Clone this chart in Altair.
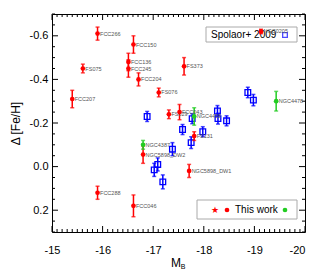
import altair as alt
import pandas as pd

# ---- data ----
red_names = ["FCC266", "FCC150", "FCC136", "FCC245", "FCC204", "FS075", "FCC207",
             "FS076", "FS373", "NGC0205", "FS029", "FCC043", "FS131",
             "NGC5898_DW2", "NGC5898_DW1", "FCC288", "FCC046"]
red_x = [-15.90, -16.61, -16.51, -16.51, -16.71, -15.61, -15.40,
         -17.11, -17.61, -19.13, -17.31, -17.52, -17.81,
         -16.80, -17.71, -15.90, -16.61]
red_y = [-0.61, -0.56, -0.48, -0.45, -0.40, -0.45, -0.31,
         -0.34, -0.46, -0.62, -0.24, -0.25, -0.14,
         -0.055, 0.02, 0.12, 0.18]
red_err = [0.03, 0.04, 0.04, 0.04, 0.03, 0.02, 0.04,
           0.02, 0.04, 0.01, 0.02, 0.035, 0.02,
           0.04, 0.03, 0.03, 0.05]

green_names = ["NGC4387", "NGC4458", "NGC4478"]
green_x = [-16.80, -17.81, -19.43]
green_y = [-0.10, -0.23, -0.30]
green_err = [0.02, 0.04, 0.045]

blue_x = [-16.88, -17.77, -17.58, -17.98, -17.75, -18.27, -18.28, -18.45,
          -17.38, -18.87, -18.98, -17.09, -17.02, -17.19]
blue_y = [-0.23, -0.22, -0.17, -0.16, -0.11, -0.255, -0.22, -0.21,
          -0.08, -0.34, -0.305, -0.01, 0.015, 0.07]
blue_err = [0.023, 0.023, 0.023, 0.023, 0.027, 0.025, 0.025, 0.023,
            0.03, 0.024, 0.026, 0.03, 0.03, 0.032]

x_major = [-15, -16, -17, -18, -19, -20]
x_minor = [round(-15 - 0.1 * i, 2) for i in range(51) if i % 10]
y_major = [-0.6, -0.4, -0.2, 0.0, 0.2]
y_minor = [round(-0.7 + 0.05 * i, 3) for i in range(21) if i % 4 != 2]

W, H = 253, 218
FONT = "Liberation Sans"
RED, GREEN, BLUE = "#ff0000", "#22cc22", "#0000ff"

red = pd.DataFrame({"name": red_names, "x": red_x, "y": red_y,
                    "lo": [y - e for y, e in zip(red_y, red_err)],
                    "hi": [y + e for y, e in zip(red_y, red_err)]})
green = pd.DataFrame({"name": green_names, "x": green_x, "y": green_y,
                      "lo": [y - e for y, e in zip(green_y, green_err)],
                      "hi": [y + e for y, e in zip(green_y, green_err)]})
blue = pd.DataFrame({"x": blue_x, "y": blue_y,
                     "lo": [y - e for y, e in zip(blue_y, blue_err)],
                     "hi": [y + e for y, e in zip(blue_y, blue_err)]})
one = pd.DataFrame({"a": [0]})
xmaj = pd.DataFrame({"t": x_major})
xmin = pd.DataFrame({"t": x_minor})
ymaj = pd.DataFrame({"t": y_major})
ymin = pd.DataFrame({"t": y_minor})

xs = alt.Scale(domain=[-20, -15], reverse=True, nice=False, zero=False)
ys = alt.Scale(domain=[-0.7, 0.3], reverse=True, nice=False, zero=False)

xlab = "(datum.value < 0 ? '-' : '') + format(abs(datum.value), 'd')"
ylab = "(datum.value < 0 ? '-' : '') + format(abs(datum.value), '.1f')"

XAX = alt.Axis(values=x_major, ticks=False, domain=False, grid=False, title=None,
               labelPadding=12, labelFontSize=11, labelFont=FONT, labelColor="black",
               labelFlush=False, labelExpr=xlab,
               labelAlign={"condition": {"test": "datum.value <= -20", "value": "right"},
                           "value": "center"})
YAX = alt.Axis(values=y_major, ticks=False, domain=False, grid=False,
               labelPadding=4, labelFontSize=11, labelFont=FONT, labelColor="black",
               labelFlush=False, labelExpr=ylab,
               title="Δ [Fe/H]", titleFont=FONT, titleFontSize=12, titleFontWeight="normal",
               titleColor="black", titlePadding=7)


def X(field="x"):
    return alt.X(f"{field}:Q", scale=xs, axis=XAX)


def Y(field="y"):
    return alt.Y(f"{field}:Q", scale=ys, axis=YAX)


def xticks(df, length):
    bot = alt.Chart(df).mark_rule(color="black", strokeWidth=1).encode(
        x=X("t"), y=alt.value(H), y2=alt.value(H - length))
    top = alt.Chart(df).mark_rule(color="black", strokeWidth=1).encode(
        x=X("t"), y=alt.value(0), y2=alt.value(length))
    return [bot, top]


def yticks(df, length):
    lft = alt.Chart(df).mark_rule(color="black", strokeWidth=1).encode(
        y=Y("t"), x=alt.value(0), x2=alt.value(length))
    rgt = alt.Chart(df).mark_rule(color="black", strokeWidth=1).encode(
        y=Y("t"), x=alt.value(W), x2=alt.value(W - length))
    return [lft, rgt]


ticks = xticks(xmaj, 6) + xticks(xmin, 3) + yticks(ymaj, 6) + yticks(ymin, 3)


def errbars(df, color, cap=4):
    rule = alt.Chart(df).mark_rule(color=color, strokeWidth=1.5).encode(x=X(), y=Y("lo"), y2="hi")
    lo = alt.Chart(df).mark_tick(color=color, orient="horizontal", size=cap, thickness=1.5).encode(x=X(), y=Y("lo"))
    hi = alt.Chart(df).mark_tick(color=color, orient="horizontal", size=cap, thickness=1.5).encode(x=X(), y=Y("hi"))
    return [rule, lo, hi]


# legend boxes
box1 = alt.Chart(one).mark_rect(fill="white", stroke="#aaaaaa", strokeWidth=1).encode(
    x=alt.value(154), x2=alt.value(245), y=alt.value(13), y2=alt.value(28))
txt1 = alt.Chart(one).mark_text(text="Spolaor+ 2009", align="left", baseline="middle",
                                fontSize=10, font=FONT, color="black").encode(
    x=alt.value(159), y=alt.value(21))
sq1 = alt.Chart(one).mark_point(shape="square", filled=False, size=22, color=BLUE, strokeWidth=1.3).encode(
    x=alt.value(233), y=alt.value(21))

box2 = alt.Chart(one).mark_rect(fill="white", stroke="#aaaaaa", strokeWidth=1).encode(
    x=alt.value(145), x2=alt.value(245), y=alt.value(186), y2=alt.value(205))
st2 = alt.Chart(one).mark_text(text="★", align="center", baseline="middle", fontSize=9,
                               font="DejaVu Sans", color=RED).encode(
    x=alt.value(163), y=alt.value(196))
ci2 = alt.Chart(one).mark_circle(size=22, color=RED, opacity=1).encode(
    x=alt.value(175), y=alt.value(196))
txt2 = alt.Chart(one).mark_text(text="This work", align="left", baseline="middle",
                                fontSize=10, font=FONT, color="black").encode(
    x=alt.value(183), y=alt.value(196))
gr2 = alt.Chart(one).mark_circle(size=22, color=GREEN, opacity=1).encode(
    x=alt.value(233), y=alt.value(196))

# x title M_B
mt = alt.Chart(one).mark_text(text="M", align="center", baseline="middle", fontSize=12,
                              font=FONT, color="black").encode(x=alt.value(124), y=alt.value(249))
bt = alt.Chart(one).mark_text(text="B", align="center", baseline="middle", fontSize=7,
                              font=FONT, color="black").encode(x=alt.value(131), y=alt.value(253))

blue_pts = alt.Chart(blue).mark_point(shape="square", filled=False, size=32, color=BLUE,
                                      strokeWidth=1.3, opacity=1).encode(x=X(), y=Y())
red_pts = alt.Chart(red).mark_circle(size=22, opacity=1, color=RED).encode(x=X(), y=Y())
green_pts = alt.Chart(green).mark_circle(size=22, opacity=1, color=GREEN).encode(x=X(), y=Y())

lab_red = alt.Chart(red).mark_text(align="left", baseline="middle", dx=2.5, fontSize=5.5,
                                   font=FONT, color="#555555").encode(x=X(), y=Y(), text="name:N")
lab_green = alt.Chart(green).mark_text(align="left", baseline="middle", dx=2.5, fontSize=5.5,
                                       font=FONT, color="#555555").encode(x=X(), y=Y(), text="name:N")

layers = (ticks + [box1, txt1, sq1, box2, st2, ci2, txt2, gr2]
          + errbars(blue, BLUE) + [blue_pts]
          + errbars(red, RED) + errbars(green, GREEN)
          + [lab_red, lab_green, red_pts, green_pts, mt, bt])

chart = alt.layer(*layers).properties(
    width=W, height=H,
    padding={"left": 44, "top": 6, "right": 1, "bottom": 39},
    autosize=alt.AutoSizeParams(type="none"),
    background="white",
).configure_view(stroke="black", strokeWidth=1)

chart.save("out.html", embed_options={"renderer": "svg", "actions": False})
